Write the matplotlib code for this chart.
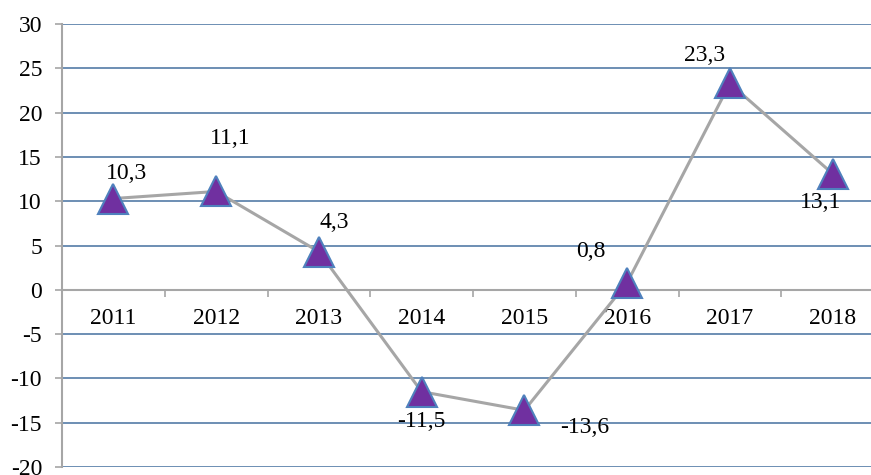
import matplotlib
matplotlib.use('Agg')
import matplotlib.pyplot as plt
import numpy as np

years = ['2011', '2012', '2013', '2014', '2015', '2016', '2017', '2018']
values = [10.3, 11.1, 4.3, -11.5, -13.6, 0.8, 23.3, 13.1]
value_labels = ['10,3', '11,1', '4,3', '-11,5', '-13,6', '0,8', '23,3', '13,1']
yticks = [-20, -15, -10, -5, 0, 5, 10, 15, 20, 25, 30]
# label offsets in pixels (dx, dy) relative to marker
label_offsets = [(13, 25), (14, 53), (15, 29), (0, -30), (60, -17), (-36, 31), (-25, 28), (-12, -29)]

plt.rcParams['font.family'] = ['Liberation Serif', 'DejaVu Serif']
FS = 17

fig = plt.figure(figsize=(8.71, 4.75), dpi=100)
ax = fig.add_axes([62 / 871, 8 / 475, (884 - 62) / 871, 443 / 475])
ax.set_xlim(-0.5, 7.5)
ax.set_ylim(-20, 30)

grid_color = '#45709F'
for y in yticks:
    if y != 0:
        ax.axhline(y, color=grid_color, lw=1.1, zorder=1)

x = np.arange(len(years))
ax.plot(x, values, color='#A6A6A6', lw=2.2, zorder=3, solid_capstyle='round')
ax.plot(x, values, ls='none', marker='^', ms=21, mfc='#7030A0', mec='#4F81BD',
        mew=1.5, zorder=4)

for xi, v, lab, (dx, dy) in zip(x, values, value_labels, label_offsets):
    ax.annotate(lab, (xi, v), xytext=(dx, dy), textcoords='offset pixels',
                ha='center', va='center', fontsize=FS, color='black', zorder=5)

# spines
for s in ['top', 'right']:
    ax.spines[s].set_visible(False)
ax.spines['left'].set_color('#A6A6A6')
ax.spines['left'].set_linewidth(1.5)
ax.spines['bottom'].set_position(('data', 0))
ax.spines['bottom'].set_color('#A6A6A6')
ax.spines['bottom'].set_linewidth(1.5)
ax.spines['bottom'].set_zorder(2)

ax.set_yticks(yticks)
ax.set_yticklabels([str(t) for t in yticks])
ax.tick_params(axis='y', direction='out', length=5, width=1.2, color='#A6A6A6',
               pad=9.4, labelsize=FS)

ax.set_xticks(np.arange(-0.5, 8, 1.0))
ax.set_xticklabels([])
ax.tick_params(axis='x', which='major', direction='out', length=5, width=1.2,
               color='#A6A6A6')
ax.set_xticks(x, minor=True)
ax.set_xticklabels(years, minor=True)
ax.tick_params(axis='x', which='minor', length=0, pad=13, labelsize=FS)

fig.savefig('out.png', dpi=100)
